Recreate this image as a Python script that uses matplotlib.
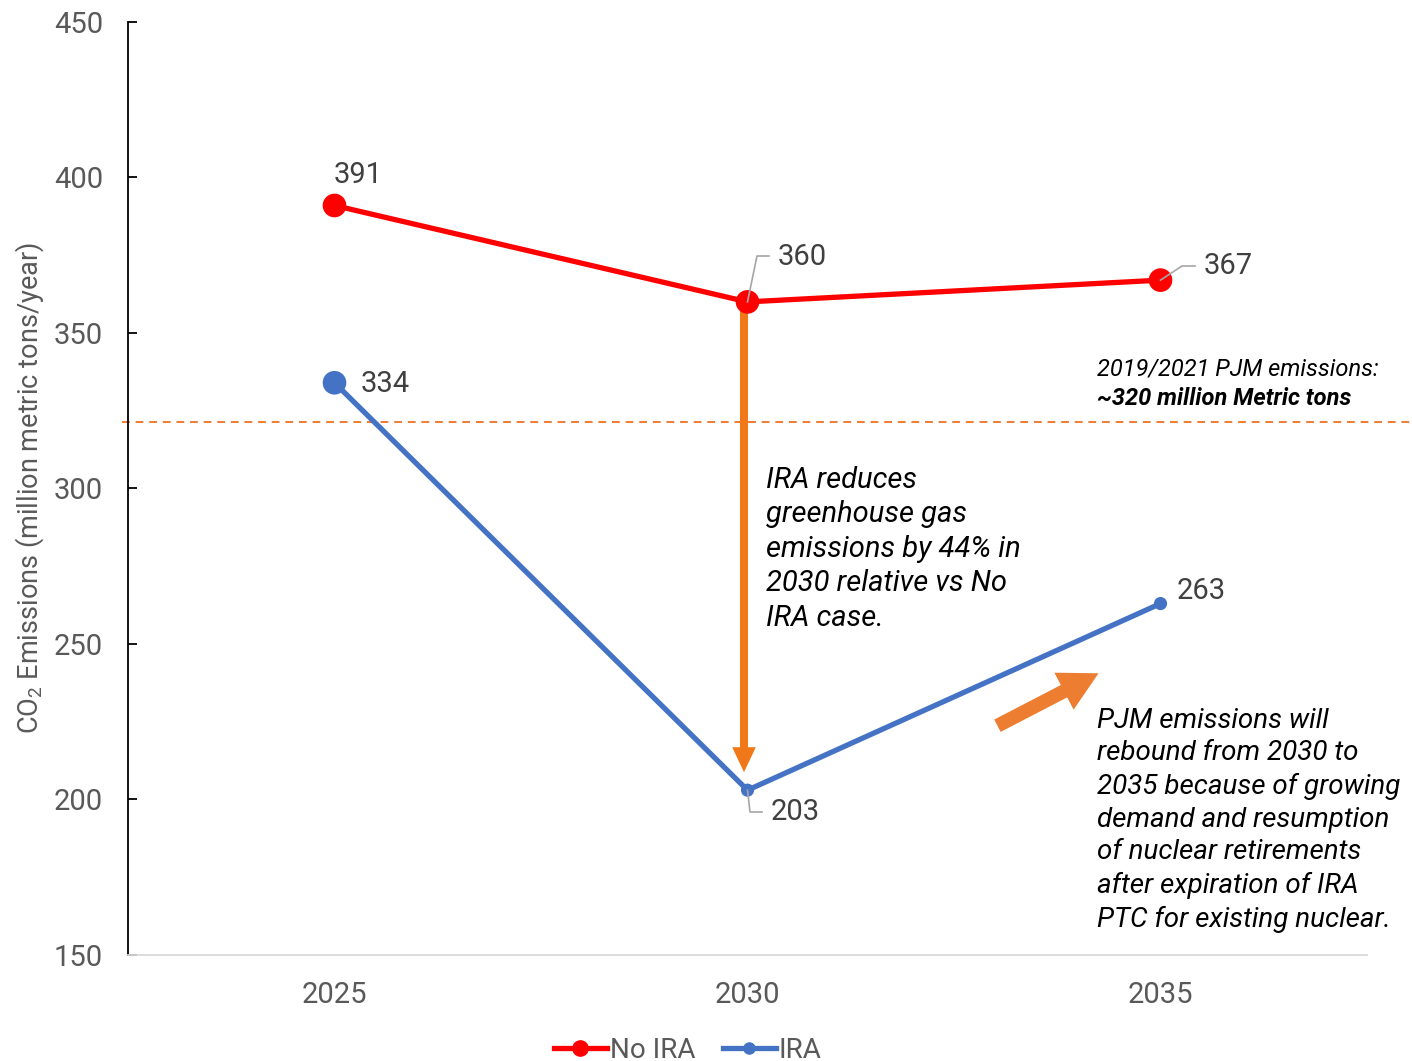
import matplotlib
matplotlib.use("Agg")
import matplotlib.pyplot as plt
from matplotlib.patches import FancyArrowPatch
from matplotlib.lines import Line2D

# data
years = ["2025", "2030", "2035"]
no_ira = [391, 360, 367]
ira = [334, 203, 263]
baseline = 321.5
yticks = [150, 200, 250, 300, 350, 400, 450]

plt.rcParams['font.family'] = ['Roboto', 'DejaVu Sans']
plt.rcParams['mathtext.fontset'] = 'custom'
plt.rcParams['mathtext.rm'] = 'Roboto'

RED = '#FF0000'
BLUE = '#4472C4'
ORANGE = '#ED7D31'
GRAY = '#595959'
DARK = '#404040'

fig = plt.figure(figsize=(14.12, 10.61), dpi=100)
ax = fig.add_axes([128/1412, 106/1061, (1367-128)/1412, (955-22)/1061])


def py(p):
    # pixel row -> data value (for placing annotations)
    return (955 - p) / 3.11 + 150


def px(p):
    # pixel column -> category position
    return (p - 128) / 413.0 - 0.5


x = list(range(len(years)))

# lines
ax.plot(x, no_ira, color=RED, lw=3.8, zorder=4)
ax.plot(x, ira, color=BLUE, lw=3.8, zorder=4)
ax.scatter(x, no_ira, s=[290, 290, 290], color=RED, zorder=5, linewidths=0)
ax.scatter(x, ira, s=[290, 90, 90], color=BLUE, zorder=5, linewidths=0)

# 2019/2021 reference line (runs past the axes to the figure edge)
ax.plot([-0.515, 2.62], [baseline, baseline], ls=(0, (4, 3)), color=ORANGE,
        lw=1.4, clip_on=False, zorder=2)

ax.set_xlim(-0.5, 2.5)
ax.set_ylim(150, 450)
ax.set_xticks(x)
ax.set_xticklabels(years)
ax.set_yticks(yticks)
ax.tick_params(axis='x', length=0, pad=19, labelsize=21, labelcolor=GRAY)
ax.tick_params(axis='y', direction='in', length=6.5, width=1.3, pad=18,
               labelsize=21, labelcolor=GRAY)
for s in ['top', 'right']:
    ax.spines[s].set_visible(False)
ax.spines['left'].set_linewidth(1.3)
ax.spines['bottom'].set_color('#D9D9D9')
ax.spines['bottom'].set_linewidth(1.3)

ax.set_ylabel('CO$_2$ Emissions (million metric tons/year)', fontsize=19.5,
              color=GRAY)
ax.yaxis.set_label_coords(-0.066, 0.5)

# data labels
lab = dict(fontsize=21, color=DARK, va='center', ha='left', zorder=6)
ax.text(px(334), py(175), str(no_ira[0]), **lab)
ax.text(px(778), py(257), str(no_ira[1]), **lab)
ax.text(px(1204), py(266), str(no_ira[2]), **lab)
ax.text(px(361), py(384), str(ira[0]), **lab)
ax.text(px(771), py(812), str(ira[1]), **lab)
ax.text(px(1177), py(591), str(ira[2]), **lab)

# leader lines
lc = dict(color='#A6A6A6', lw=1.2, zorder=6)
ax.plot([1.0, px(757), px(769)], [no_ira[1], py(256), py(256)], **lc)
ax.plot([2.0, px(1182), px(1195)], [no_ira[2], py(266), py(266)], **lc)
ax.plot([1.0, px(750), px(762)], [ira[1], py(812), py(812)], **lc)

# vertical reduction arrow
ax.add_patch(FancyArrowPatch(
    (px(744), py(308)), (px(744), py(775)),
    arrowstyle='simple,head_length=18,head_width=17,tail_width=5.8',
    mutation_scale=1, color='#F07818', lw=0, zorder=3))

# rebound arrow
ax.add_patch(FancyArrowPatch(
    (px(995), py(727)), (px(1101), py(672)),
    arrowstyle='simple,head_length=28,head_width=30,tail_width=10',
    mutation_scale=1, color=ORANGE, lw=0, zorder=3))

# annotations
ax.text(px(1097), py(369), '2019/2021 PJM emissions:', fontsize=17,
        style='italic', color='black', va='center', ha='left')
ax.text(px(1097), py(399), '~320 million Metric tons',
        fontsize=17, style='italic', weight='bold', color='black',
        va='center', ha='left')
ax.text(px(766), py(466),
        'IRA reduces\ngreenhouse gas\nemissions by 44% in\n2030 relative vs No\nIRA case.',
        fontsize=21, style='italic', color='black', va='top', ha='left',
        linespacing=1.29)
ax.text(px(1097), py(708),
        'PJM emissions will\nrebound from 2030 to\n2035 because of growing\n'
        'demand and resumption\nof nuclear retirements\nafter expiration of IRA\n'
        'PTC for existing nuclear.',
        fontsize=20, style='italic', color='black', va='top', ha='left',
        linespacing=1.32)

handles = [Line2D([], [], color=RED, lw=3.8, marker='o', ms=11),
           Line2D([], [], color=BLUE, lw=3.8, marker='o', ms=8)]
fig.legend(handles, ['No IRA', 'IRA'], loc='center',
           bbox_to_anchor=(0.487, 1 - 1050 / 1061), ncol=2, frameon=False,
           fontsize=20, labelcolor=GRAY, handlelength=1.9, handletextpad=0.1,
           columnspacing=1.0)

fig.savefig('out.png', dpi=100)
